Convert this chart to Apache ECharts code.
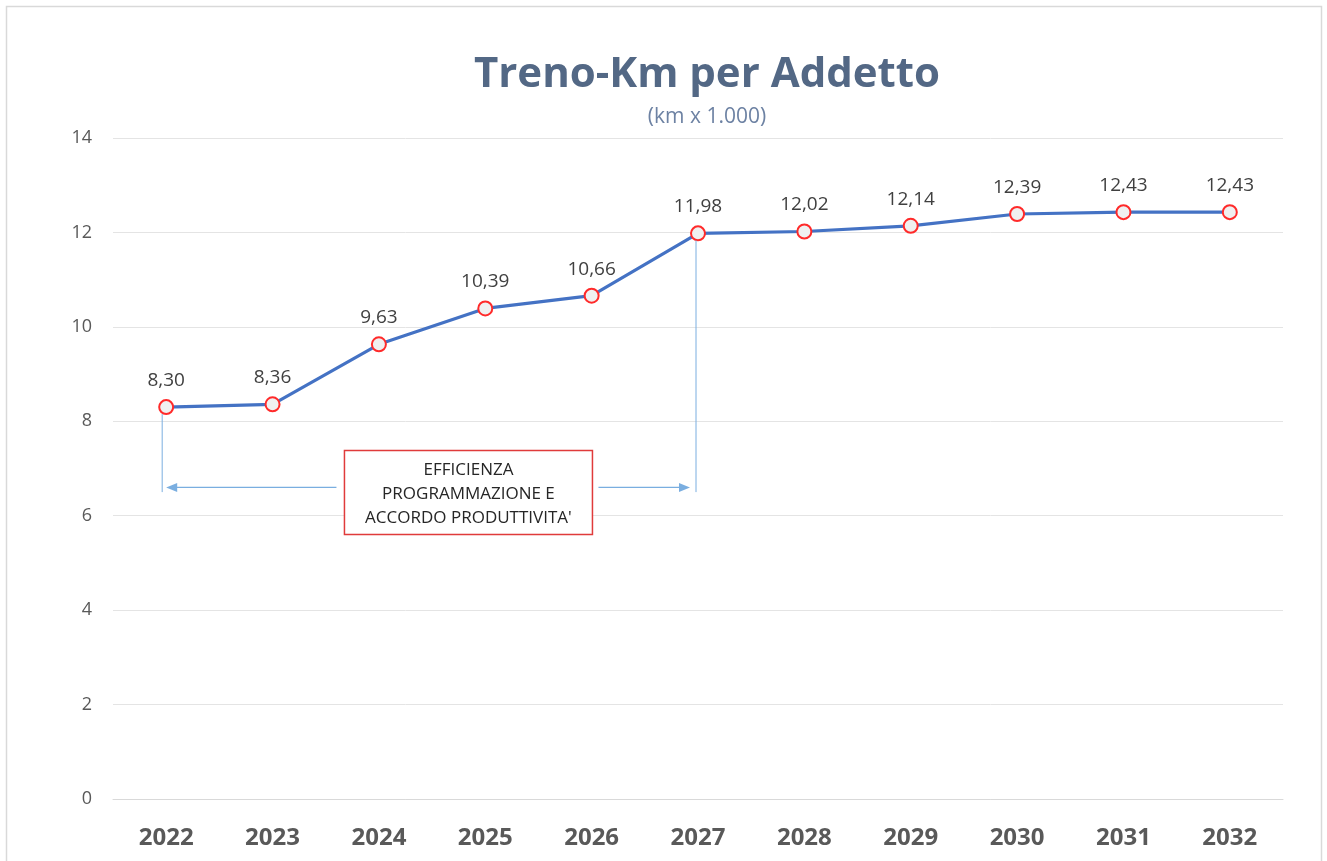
<!DOCTYPE html>
<html>
<head>
<meta charset="utf-8">
<script src="https://cdn.jsdelivr.net/npm/echarts@6/dist/echarts.min.js"></script>
<style>
  html, body { margin: 0; padding: 0; background: #fff; }
  #chart { width: 1327px; height: 861px; }
</style>
</head>
<body>
<div id="chart"></div>
<script>
// data
const years = ['2022', '2023', '2024', '2025', '2026', '2027', '2028', '2029', '2030', '2031', '2032']
const trenoKm = [8.30, 8.36, 9.63, 10.39, 10.66, 11.98, 12.02, 12.14, 12.39, 12.43, 12.43]
const yTicks = [0, 2, 4, 6, 8, 10, 12, 14]
const noteLines = ['EFFICIENZA', 'PROGRAMMAZIONE E', "ACCORDO PRODUTTIVITA'"]

// annotation span: from 2022 to 2027, drawn at y = 6.6
const spanFrom = 0
const spanTo = 5
const arrowLevel = 6.6
const guideBottom = 6.5
const guideColor = '#7aaee0'

const chart = echarts.init(document.getElementById('chart'))

const fmt = v => v.toFixed(2).replace('.', ',')

chart.setOption({
  backgroundColor: '#fff',
  animation: false,
  title: {
    text: 'Treno-Km per Addetto',
    subtext: '(km x 1.000)',
    left: 702,
    top: 49,
    textAlign: 'center',
    itemGap: 11,
    textStyle: {
      fontFamily: 'Open Sans',
      fontSize: 42,
      fontWeight: 'bold',
      color: '#536885'
    },
    subtextStyle: {
      fontFamily: 'Open Sans',
      fontSize: 21,
      color: '#6d82a3'
    }
  },
  grid: {
    left: 113,
    right: 44,
    top: 138,
    bottom: 62
  },
  xAxis: {
    type: 'category',
    data: years,
    boundaryGap: true,
    axisTick: { show: false },
    axisLine: { show: true, lineStyle: { color: '#d9d9d9', width: 1 } },
    axisLabel: {
      margin: 27,
      fontFamily: 'Open Sans',
      fontSize: 24,
      fontWeight: 'bold',
      color: '#595959'
    }
  },
  yAxis: {
    type: 'value',
    min: yTicks[0],
    max: yTicks[yTicks.length - 1],
    interval: 2,
    axisLine: { show: false },
    axisTick: { show: false },
    splitLine: { lineStyle: { color: '#e4e4e4', width: 1 } },
    axisLabel: {
      margin: 21,
      fontFamily: 'Open Sans',
      fontSize: 18,
      color: '#595959'
    }
  },
  series: [
    {
      name: 'Treno-Km per Addetto',
      type: 'line',
      data: trenoKm,
      symbol: 'circle',
      symbolSize: 14,
      lineStyle: { color: '#4472c4', width: 3.2 },
      itemStyle: { color: '#f0f0f0', borderColor: '#ff2a2a', borderWidth: 2 },
      label: {
        show: true,
        position: 'top',
        distance: 9,
        formatter: p => fmt(p.value),
        fontFamily: 'Open Sans',
        fontSize: 19,
        color: '#404040'
      },
      z: 5
    }
  ]
})

// annotation drawn from the chart's own scales
const px = (i, v) => chart.convertToPixel({ seriesIndex: 0 }, [i, v])
const pStart = px(spanFrom, trenoKm[spanFrom])
const pEnd = px(spanTo, trenoKm[spanTo])
const yArrow = px(0, arrowLevel)[1]
const yGuide = px(0, guideBottom)[1]
const xL = pStart[0] - 4
const xR = pEnd[0] - 2

const boxW = 248
const boxH = 84
const boxX = (px(3, 0)[0] + px(4, 0)[0]) / 2 - boxW / 2 - 70
const boxY = yArrow - 37

function arrowHead(tipX, y, dir) {
  return {
    type: 'polygon',
    silent: true,
    shape: { points: [[tipX, y], [tipX - dir * 11, y - 4.5], [tipX - dir * 11, y + 4.5]] },
    style: { fill: guideColor },
    z: 50
  }
}

chart.setOption({
  graphic: [
    {
      type: 'rect',
      silent: true,
      shape: { x: 6.5, y: 6.5, width: 1315, height: 900 },
      style: { fill: 'none', stroke: '#d9d9d9', lineWidth: 1.5 },
      z: -1
    },
    {
      type: 'line', silent: true, z: 50,
      shape: { x1: xL, y1: pStart[1] + 7, x2: xL, y2: yGuide },
      style: { stroke: guideColor, lineWidth: 1 }
    },
    {
      type: 'line', silent: true, z: 50,
      shape: { x1: xR, y1: pEnd[1] + 7, x2: xR, y2: yGuide },
      style: { stroke: guideColor, lineWidth: 1 }
    },
    {
      type: 'line', silent: true, z: 50,
      shape: { x1: xL + 14, y1: yArrow, x2: boxX - 8, y2: yArrow },
      style: { stroke: guideColor, lineWidth: 1.2 }
    },
    arrowHead(xL + 4, yArrow, -1),
    {
      type: 'line', silent: true, z: 50,
      shape: { x1: boxX + boxW + 6, y1: yArrow, x2: xR - 16, y2: yArrow },
      style: { stroke: guideColor, lineWidth: 1.2 }
    },
    arrowHead(xR - 6, yArrow, 1),
    {
      type: 'rect',
      shape: { x: boxX, y: boxY, width: boxW, height: boxH },
      style: { fill: '#fff', stroke: '#e03b3b', lineWidth: 1.5 },
      z: 100
    },
    {
      type: 'text',
      x: boxX + boxW / 2,
      y: boxY + boxH / 2 + 2,
      style: {
        text: noteLines.join('\n'),
        fontFamily: 'Open Sans',
        fontSize: 17,
        lineHeight: 24,
        fill: '#262626',
        align: 'center',
        verticalAlign: 'middle'
      },
      z: 101
    }
  ]
})
</script>
</body>
</html>
